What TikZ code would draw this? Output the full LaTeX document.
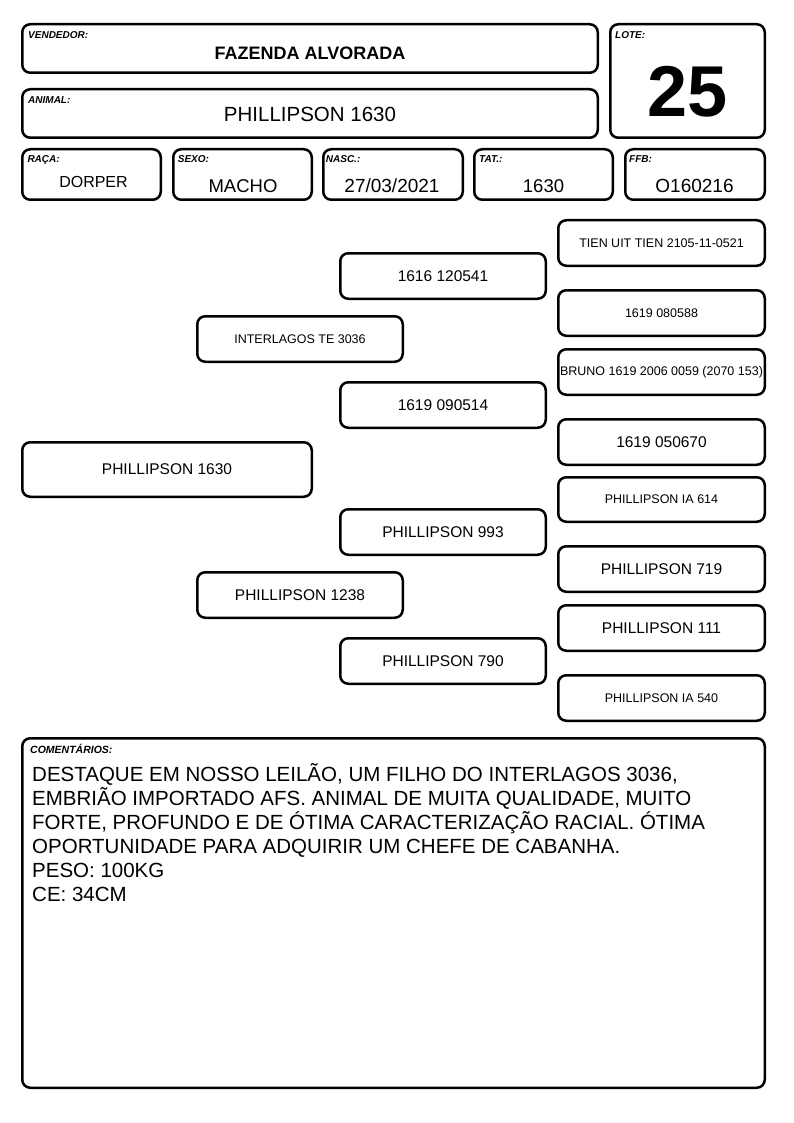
\documentclass[tikz,border=0pt]{standalone}
\usepackage{fontspec}
\setmainfont{Liberation Sans}
\newcommand\mkbox[7]{\node[box,#6,minimum width={#4-#2-2.5},minimum height={#5-#3-2.5}] (#1) at ({(#2+#4)/2},{(#3+#5)/2}) {#7};}
\begin{document}
\begin{tikzpicture}[x=1pt,y=-1pt,
  box/.style={draw=black, line width=2.5pt, rounded corners=8pt, inner sep=0pt, align=center},
  lbl/.style={anchor=base west, inner sep=0pt, font=\fontsize{10}{12}\selectfont\bfseries\itshape},
  big/.style={font=\fontsize{15.5}{18}\selectfont},
  small/.style={font=\fontsize{12.5}{15}\selectfont},
  val/.style={anchor=base, inner sep=0pt}]
\useasboundingbox (0,0) rectangle (794,1123);
\fill[white] (0,0) rectangle (794,1123);
% header boxes
\mkbox{vend}{21}{23}{599}{74}{}{}
\mkbox{anim}{21}{88}{599}{139}{}{}
\mkbox{lote}{609}{23}{766}{139}{}{}
\mkbox{raca}{21}{148}{162}{201}{}{}
\mkbox{sexo}{172}{148}{313}{201}{}{}
\mkbox{nasc}{322}{148}{464}{201}{}{}
\mkbox{tat}{473}{148}{614}{201}{}{}
\mkbox{ffb}{624}{148}{766}{201}{}{}
% labels
\node[lbl] (vendl) at (28,39) {VENDEDOR:};
\node[lbl] (animl) at (28,103.5) {ANIMAL:};
\node[lbl] (lotel) at (615,38.5) {LOTE:};
\node[lbl] (racal) at (27.3,162.5) {RAÇA:};
\node[lbl] (sexol) at (177.7,162.5) {SEXO:};
\node[lbl] (nascl) at (325.7,162.5) {NASC.:};
\node[lbl] (tatl) at (479,162.5) {TAT.:};
\node[lbl] (ffbl) at (629,162.5) {FFB:};
% values
\node[val, font=\fontsize{18}{18}\selectfont\bfseries] (vendv) at (310,60) {FAZENDA ALVORADA};
\node[val, font=\fontsize{20.5}{20.5}\selectfont] (animv) at (310,122) {PHILLIPSON 1630};
\node[val, font=\fontsize{72}{72}\selectfont\bfseries] (lotev) at (687.5,117) {25};
\node[val, font=\fontsize{16}{16}\selectfont] (racav) at (93.5,188) {DORPER};
\node[val, font=\fontsize{18.5}{18.5}\selectfont] (sexov) at (243,193) {MACHO};
\node[val, font=\fontsize{19}{19}\selectfont] (nascv) at (392,193) {27/03/2021};
\node[val, font=\fontsize{18.5}{18.5}\selectfont] (tatv) at (543.5,193) {1630};
\node[val, font=\fontsize{19}{19}\selectfont] (ffbv) at (694.5,193) {O160216};
% pedigree
\mkbox{p0}{21}{441}{313}{498}{big}{PHILLIPSON 1630}
\mkbox{p1}{196}{315}{404}{363}{small}{INTERLAGOS TE 3036}
\mkbox{p2}{196}{571}{404}{619}{big}{PHILLIPSON 1238}
\mkbox{p11}{339}{252}{547}{300}{big}{1616 120541}
\mkbox{p12}{339}{381}{547}{429}{big}{1619 090514}
\mkbox{p21}{339}{508}{547}{556}{big}{PHILLIPSON 993}
\mkbox{p22}{339}{637}{547}{685}{big}{PHILLIPSON 790}
\mkbox{p111}{557}{219}{766}{267}{small}{TIEN UIT TIEN 2105-11-0521}
\mkbox{p112}{557}{289}{766}{337}{small}{1619 080588}
\mkbox{p121}{557}{348}{766}{396}{small}{BRUNO 1619 2006 0059 (2070 153)}
\mkbox{p122}{557}{418}{766}{466}{big}{1619 050670}
\mkbox{p211}{557}{476}{766}{523}{small}{PHILLIPSON IA 614}
\mkbox{p212}{557}{545}{766}{593}{big}{PHILLIPSON 719}
\mkbox{p221}{557}{604}{766}{652}{big}{PHILLIPSON 111}
\mkbox{p222}{557}{674}{766}{722}{small}{PHILLIPSON IA 540}
% comments
\mkbox{com}{21}{737}{766}{1089}{}{}
\node[lbl, font=\fontsize{10.5}{12}\selectfont\bfseries\itshape] (coml) at (30,753) {COMENTÁRIOS:};
\node[anchor=base west, inner sep=0pt, align=left, font=\fontsize{20.5}{24}\selectfont] (comv) at (32,901) {DESTAQUE EM NOSSO LEILÃO, UM FILHO DO INTERLAGOS 3036,\\EMBRIÃO IMPORTADO AFS. ANIMAL DE MUITA QUALIDADE, MUITO\\FORTE, PROFUNDO E DE ÓTIMA CARACTERIZAÇÃO RACIAL. ÓTIMA\\OPORTUNIDADE PARA ADQUIRIR UM CHEFE DE CABANHA.\\PESO: 100KG\\CE: 34CM};
\end{tikzpicture}
\end{document}
